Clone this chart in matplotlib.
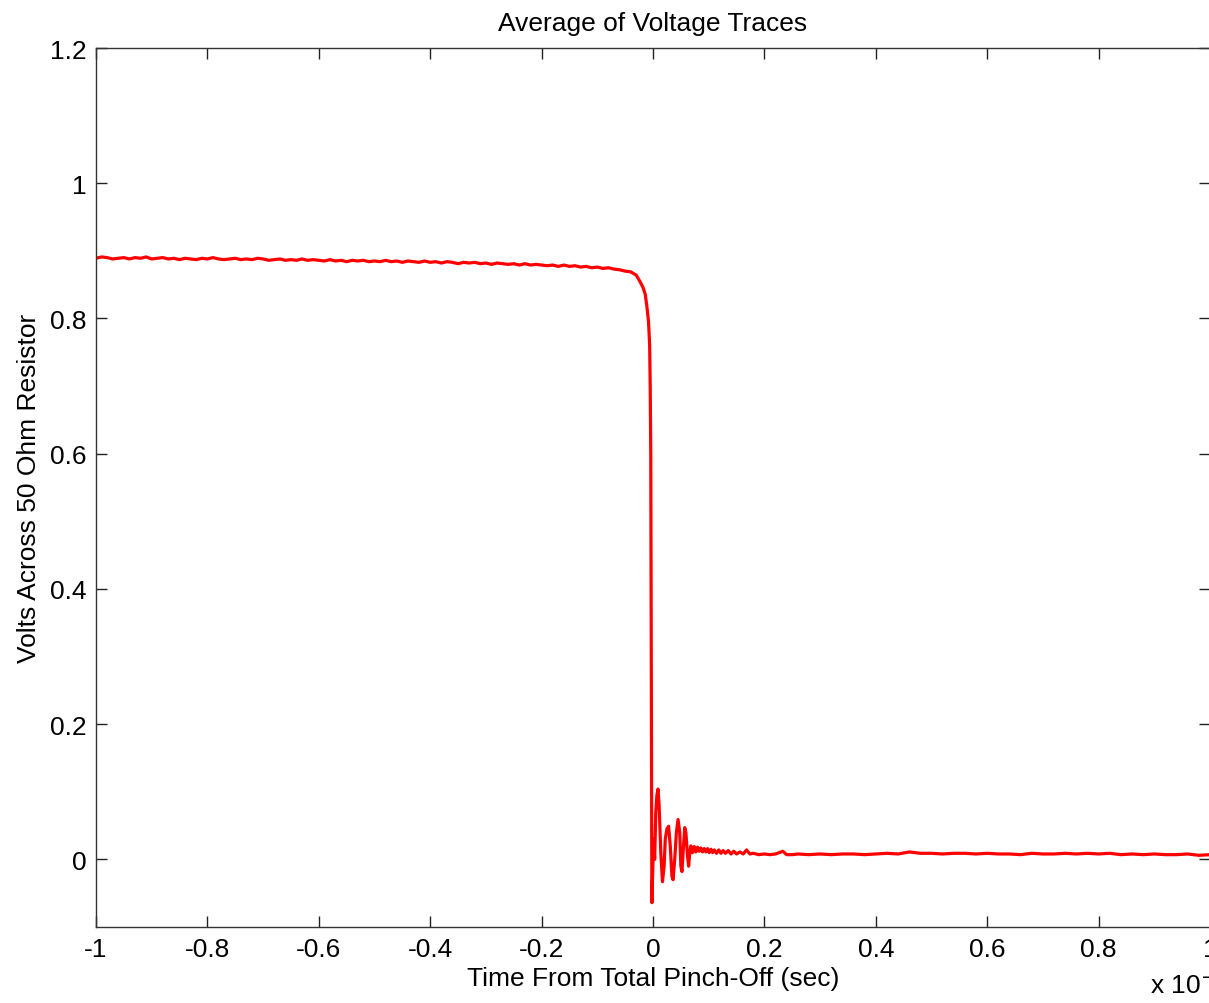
import matplotlib
matplotlib.use("Agg")
import matplotlib.pyplot as plt
from matplotlib.ticker import FuncFormatter

plt.rcParams['font.family'] = ['Liberation Sans', 'DejaVu Sans']

# time in microseconds (axis shown x 10^-6 s), volts
t_plateau = [-1.00, -0.99, -0.98, -0.97, -0.96, -0.95, -0.94, -0.93, -0.92, -0.91,
             -0.90, -0.89, -0.88, -0.87, -0.86, -0.85, -0.84, -0.83, -0.82, -0.81,
             -0.80, -0.79, -0.78, -0.77, -0.76, -0.75, -0.74, -0.73, -0.72, -0.71,
             -0.70, -0.69, -0.68, -0.67, -0.66, -0.65, -0.64, -0.63, -0.62, -0.61,
             -0.60, -0.59, -0.58, -0.57, -0.56, -0.55, -0.54, -0.53, -0.52, -0.51,
             -0.50, -0.49, -0.48, -0.47, -0.46, -0.45, -0.44, -0.43, -0.42, -0.41,
             -0.40, -0.39, -0.38, -0.37, -0.36, -0.35, -0.34, -0.33, -0.32, -0.31,
             -0.30, -0.29, -0.28, -0.27, -0.26, -0.25, -0.24, -0.23, -0.22, -0.21,
             -0.20, -0.19, -0.18, -0.17, -0.16, -0.15, -0.14, -0.13, -0.12, -0.11,
             -0.10, -0.09, -0.08, -0.07, -0.06, -0.05, -0.04]
v_plateau = [0.889, 0.891, 0.890, 0.888, 0.889, 0.890, 0.888, 0.890, 0.889, 0.891,
             0.888, 0.889, 0.890, 0.888, 0.889, 0.887, 0.889, 0.888, 0.887, 0.889,
             0.888, 0.890, 0.888, 0.887, 0.888, 0.889, 0.887, 0.888, 0.887, 0.889,
             0.888, 0.886, 0.887, 0.888, 0.886, 0.887, 0.886, 0.888, 0.886, 0.887,
             0.886, 0.885, 0.887, 0.885, 0.886, 0.884, 0.886, 0.885, 0.886, 0.884,
             0.885, 0.884, 0.886, 0.884, 0.885, 0.883, 0.885, 0.884, 0.883, 0.885,
             0.883, 0.884, 0.882, 0.884, 0.883, 0.881, 0.883, 0.882, 0.883, 0.881,
             0.882, 0.880, 0.882, 0.881, 0.880, 0.881, 0.879, 0.881, 0.879, 0.880,
             0.879, 0.878, 0.879, 0.877, 0.879, 0.877, 0.878, 0.876, 0.877, 0.875,
             0.876, 0.874, 0.875, 0.873, 0.872, 0.870, 0.869]

t_drop = [-0.030, -0.023, -0.018, -0.014, -0.011, -0.008, -0.006, -0.005, -0.004,
          -0.0035, -0.003, -0.0025, -0.002]
v_drop = [0.864, 0.854, 0.846, 0.836, 0.818, 0.795, 0.760, 0.700, 0.600,
          0.450, 0.250, 0.100, -0.064]

t_ring = [0.001, 0.003, 0.005, 0.007, 0.009, 0.011, 0.014, 0.017, 0.020, 0.022,
          0.025, 0.028, 0.031, 0.034, 0.036, 0.039, 0.042, 0.045, 0.048, 0.050,
          0.052, 0.054, 0.057, 0.059, 0.062, 0.064, 0.066]
v_ring = [0.030, 0.000, 0.070, 0.095, 0.104, 0.080, 0.010, -0.033, -0.010, 0.030,
          0.045, 0.049, 0.020, -0.025, -0.030, 0.000, 0.040, 0.059, 0.040, -0.010,
          -0.018, 0.010, 0.047, 0.040, 0.005, -0.010, 0.010]

t_tail = [0.068, 0.071, 0.074, 0.077, 0.080, 0.083, 0.086, 0.089, 0.092, 0.095,
          0.098, 0.101, 0.104, 0.107, 0.110, 0.114, 0.118, 0.122, 0.126, 0.130,
          0.135, 0.140, 0.145, 0.150, 0.156, 0.162, 0.168, 0.174, 0.180, 0.19,
          0.20, 0.21, 0.22, 0.233, 0.24, 0.25, 0.26, 0.28, 0.30, 0.32,
          0.34, 0.36, 0.38, 0.40, 0.42, 0.44, 0.46, 0.48, 0.50, 0.52,
          0.54, 0.56, 0.58, 0.60, 0.62, 0.64, 0.66, 0.68, 0.70, 0.72,
          0.74, 0.76, 0.78, 0.80, 0.82, 0.84, 0.86, 0.88, 0.90, 0.92,
          0.94, 0.96, 0.98, 1.00]
v_tail = [0.020, 0.010, 0.019, 0.011, 0.018, 0.012, 0.017, 0.011, 0.016, 0.011,
          0.016, 0.010, 0.015, 0.010, 0.014, 0.009, 0.014, 0.009, 0.013, 0.009,
          0.013, 0.008, 0.012, 0.008, 0.011, 0.008, 0.014, 0.008, 0.009, 0.007,
          0.008, 0.007, 0.008, 0.012, 0.007, 0.007, 0.008, 0.007, 0.008, 0.007,
          0.008, 0.008, 0.007, 0.008, 0.009, 0.008, 0.011, 0.009, 0.009, 0.008,
          0.009, 0.009, 0.008, 0.009, 0.008, 0.008, 0.007, 0.009, 0.008, 0.008,
          0.009, 0.008, 0.009, 0.008, 0.009, 0.007, 0.008, 0.007, 0.008, 0.007,
          0.007, 0.008, 0.006, 0.007]

x_ticks = [-1, -0.8, -0.6, -0.4, -0.2, 0, 0.2, 0.4, 0.6, 0.8, 1]
y_ticks = [0, 0.2, 0.4, 0.6, 0.8, 1, 1.2]

t = t_plateau + t_drop + t_ring + t_tail
v = v_plateau + v_drop + v_ring + v_tail

fig = plt.figure(figsize=(12.09, 10.04), dpi=100)
ax = fig.add_axes([96 / 1209, 76 / 1004, 1114 / 1209, 879 / 1004])
ax.plot(t, v, color='#ff0000', linewidth=2.3)

ax.set_xlim(-1, 1)
ax.set_ylim(-0.1, 1.2)
ax.set_xticks(x_ticks)
ax.set_yticks(y_ticks)
fmt = FuncFormatter(lambda val, pos: ('%g' % round(val, 6)))
ax.xaxis.set_major_formatter(fmt)
ax.yaxis.set_major_formatter(fmt)
ax.tick_params(direction='in', length=8, width=1, top=True, right=True,
               labelsize=19, pad=7, colors='#222222', labelcolor='black')
for s in ax.spines.values():
    s.set_color('#333333')
    s.set_linewidth(1.0)

ax.set_title('Average of Voltage Traces', fontsize=19, pad=13)
ax.set_xlabel('Time From Total Pinch-Off (sec)', fontsize=19, labelpad=4)
ax.set_ylabel('Volts Across 50 Ohm Resistor', fontsize=19, labelpad=6)
fig.text(1150 / 1209, 5 / 1004, 'x 10$^{-6}$', fontsize=19, ha='left', va='bottom')

fig.savefig('out.png', dpi=100)
